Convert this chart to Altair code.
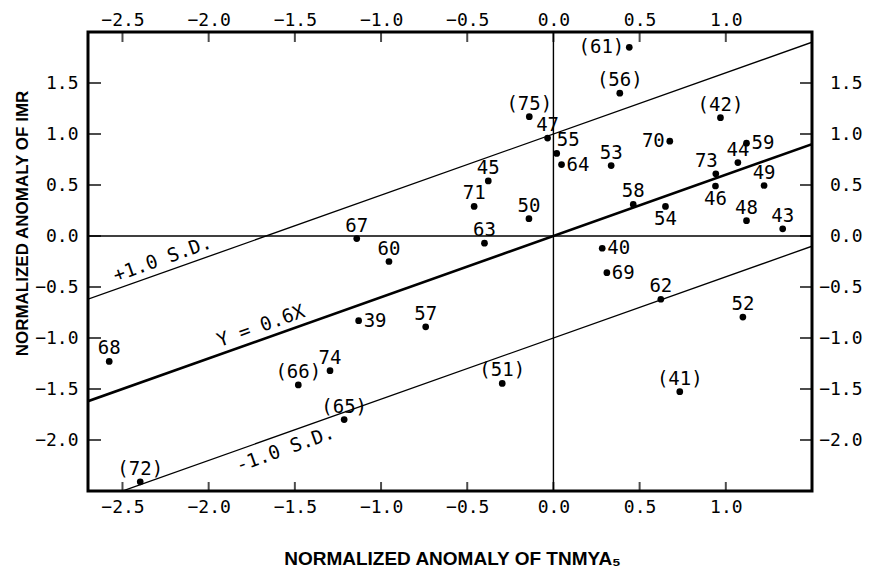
import altair as alt
import pandas as pd

# ---- data ----
labels = ["(61)", "(56)", "(75)", "47", "55", "64", "53", "70", "(42)", "59",
          "44", "73", "46", "49", "48", "43", "58", "54", "45", "71",
          "50", "63", "40", "69", "62", "52", "(51)", "(41)", "67", "60",
          "39", "57", "68", "74", "(66)", "(65)", "(72)"]
x_vals = [0.44, 0.385, -0.14, -0.034, 0.019, 0.047, 0.335, 0.675, 0.969, 1.12,
          1.07, 0.942, 0.94, 1.222, 1.12, 1.33, 0.463, 0.65, -0.378, -0.46,
          -0.142, -0.40, 0.283, 0.31, 0.623, 1.099, -0.297, 0.733, -1.141, -0.954,
          -1.13, -0.741, -2.577, -1.296, -1.48, -1.214, -2.397]
y_vals = [1.85, 1.40, 1.17, 0.96, 0.81, 0.70, 0.69, 0.93, 1.16, 0.91,
          0.72, 0.61, 0.49, 0.495, 0.15, 0.07, 0.31, 0.29, 0.54, 0.29,
          0.17, -0.07, -0.12, -0.36, -0.62, -0.795, -1.445, -1.526, -0.025, -0.25,
          -0.83, -0.89, -1.23, -1.32, -1.46, -1.80, -2.41]
placement = ["left", "above", "above", "above", "aboveright", "right", "above", "left", "above", "right",
             "above", "aboveleft", "below", "above", "above", "above", "above", "below", "above", "above",
             "above", "above", "right", "right", "above", "above", "above", "above", "above", "above",
             "right", "above", "above", "above", "above", "above", "above"]

x_ticks = [-2.5, -2.0, -1.5, -1.0, -0.5, 0.0, 0.5, 1.0]
y_ticks = [-2.0, -1.5, -1.0, -0.5, 0.0, 0.5, 1.0, 1.5]
x_domain = [-2.7, 1.5]
y_domain = [-2.5, 2.0]

slope = 0.6
line_offsets = [1.0, 0.0, -1.0]
line_names = ["+1.0 S.D.", "Y = 0.6X", "-1.0 S.D."]
line_label_x = [-2.242, -1.672, -1.585]

# ---- tables ----
pts = pd.DataFrame({"label": labels, "x": x_vals, "y": y_vals, "pos": placement})

line_rows = []
for name, off in zip(line_names, line_offsets):
    for xv in x_domain:
        line_rows.append({"name": name, "x": xv, "y": slope * xv + off})
lines = pd.DataFrame(line_rows)

ann = pd.DataFrame({"name": line_names,
                    "x": line_label_x,
                    "y": [slope * xv + off for xv, off in zip(line_label_x, line_offsets)]})

xt = pd.DataFrame({"v": x_ticks})
yt = pd.DataFrame({"v": y_ticks})
zero = pd.DataFrame({"v": [0.0]})

xs = alt.Scale(domain=x_domain, nice=False, zero=False)
ys = alt.Scale(domain=y_domain, nice=False, zero=False)

MONO = "DejaVu Sans Mono"
TICKFS = 18

x_bottom = alt.Axis(orient="bottom", values=x_ticks, format=".1f", ticks=False, tickSize=0,
                    domain=False, grid=False, labelFont=MONO, labelFontSize=TICKFS,
                    labelColor="black", labelPadding=7, labelOverlap=False, labelFlush=False,
                    title="NORMALIZED ANOMALY OF TNMYA\u2085", titleFont="Liberation Sans",
                    titleFontSize=19, titleFontWeight="bold", titleColor="black",
                    titleX=364, titleY=67, titleAlign="center", titleBaseline="middle")
x_top = alt.Axis(orient="top", values=x_ticks, format=".1f", ticks=False, tickSize=0,
                 domain=False, grid=False, labelFont=MONO, labelFontSize=TICKFS,
                 labelColor="black", labelPadding=3, labelOverlap=False, labelFlush=False,
                 title="")
y_left = alt.Axis(orient="left", values=y_ticks, format=".1f", ticks=False, tickSize=0,
                  domain=False, grid=False, labelFont=MONO, labelFontSize=TICKFS,
                  labelColor="black", labelPadding=10, labelOverlap=False, labelFlush=False,
                  title="NORMALIZED ANOMALY OF IMR", titleFont="Liberation Sans",
                  titleFontSize=17, titleFontWeight="bold", titleColor="black",
                  titleAngle=270, titleX=-66, titleY=191, titleAlign="center",
                  titleBaseline="middle")
y_right = alt.Axis(orient="right", values=y_ticks, format=".1f", ticks=False, tickSize=0,
                   domain=False, grid=False, labelFont=MONO, labelFontSize=TICKFS,
                   labelColor="black", labelPadding=50, labelAlign="right",
                   labelOverlap=False, labelFlush=False, title="")

# points (carry bottom/left axes)
points = alt.Chart(pts).mark_circle(size=45, color="black", opacity=1).encode(
    x=alt.X("x:Q", scale=xs, axis=x_bottom),
    y=alt.Y("y:Q", scale=ys, axis=y_left),
)

def txt(pos, **kw):
    return alt.Chart(pts).transform_filter(alt.datum.pos == pos).mark_text(
        font=MONO, fontSize=19, color="black", **kw).encode(
        x=alt.X("x:Q", scale=xs, axis=None),
        y=alt.Y("y:Q", scale=ys, axis=None),
        text="label:N")

t_above = txt("above", align="center", baseline="middle", dy=-13)
t_below = txt("below", align="center", baseline="middle", dy=13)
t_right = txt("right", align="left", baseline="middle", dx=5)
t_left = txt("left", align="right", baseline="middle", dx=-5)
t_al = txt("aboveleft", align="right", baseline="middle", dx=2, dy=-13)
t_ar = txt("aboveright", align="left", baseline="middle", dx=0, dy=-13)

thick = alt.Chart(lines).transform_filter(alt.datum.name == "Y = 0.6X").mark_line(
    color="black", strokeWidth=2.6, clip=True).encode(
    x=alt.X("x:Q", scale=xs, axis=None), y=alt.Y("y:Q", scale=ys, axis=None), detail="name:N")
thin = alt.Chart(lines).transform_filter(alt.datum.name != "Y = 0.6X").mark_line(
    color="black", strokeWidth=1.3, clip=True).encode(
    x=alt.X("x:Q", scale=xs, axis=None), y=alt.Y("y:Q", scale=ys, axis=None), detail="name:N")

ann_above = alt.Chart(ann).transform_filter(alt.datum.name != "-1.0 S.D.").mark_text(
    font=MONO, fontSize=19, color="black", angle=340.4, align="center", baseline="bottom", dy=-3).encode(
    x=alt.X("x:Q", scale=xs, axis=None), y=alt.Y("y:Q", scale=ys, axis=None), text="name:N")
ann_below = alt.Chart(ann).transform_filter(alt.datum.name == "-1.0 S.D.").mark_text(
    font=MONO, fontSize=19, color="black", angle=340.4, align="center", baseline="top", dy=6).encode(
    x=alt.X("x:Q", scale=xs, axis=None), y=alt.Y("y:Q", scale=ys, axis=None), text="name:N")

vline = alt.Chart(zero).mark_rule(color="black", strokeWidth=1.4).encode(
    x=alt.X("v:Q", scale=xs, axis=None))
hline = alt.Chart(zero).mark_rule(color="black", strokeWidth=1.4).encode(
    y=alt.Y("v:Q", scale=ys, axis=None))

# inward tick marks on all four sides (top/right carry the top/right axes)
top_ticks = alt.Chart(xt).mark_tick(orient="vertical", size=10, thickness=2, color="black").encode(
    x=alt.X("v:Q", scale=xs, axis=x_top), y=alt.value(5))
bottom_ticks = alt.Chart(xt).mark_tick(orient="vertical", size=9, thickness=2, color="black").encode(
    x=alt.X("v:Q", scale=xs, axis=None), y=alt.value(459 - 4.5))
left_ticks = alt.Chart(yt).mark_tick(orient="horizontal", size=13, thickness=2, color="black").encode(
    y=alt.Y("v:Q", scale=ys, axis=None), x=alt.value(6.5))
right_ticks = alt.Chart(yt).mark_tick(orient="horizontal", size=12, thickness=2, color="black").encode(
    y=alt.Y("v:Q", scale=ys, axis=y_right), x=alt.value(724 - 6))

chart = alt.layer(
    vline, hline, thin, thick, points,
    t_above, t_below, t_right, t_left, t_al, t_ar,
    ann_above, ann_below,
    top_ticks, bottom_ticks, left_ticks, right_ticks,
).resolve_axis(x="independent", y="independent").properties(
    width=724, height=459,
    autosize=alt.AutoSizeParams(type="none"),
    padding={"left": 80, "top": 24, "right": 51, "bottom": 77},
    background="white",
).configure_view(stroke="black", strokeWidth=3)

chart.save("out.html", embed_options={"renderer": "svg", "actions": False})
